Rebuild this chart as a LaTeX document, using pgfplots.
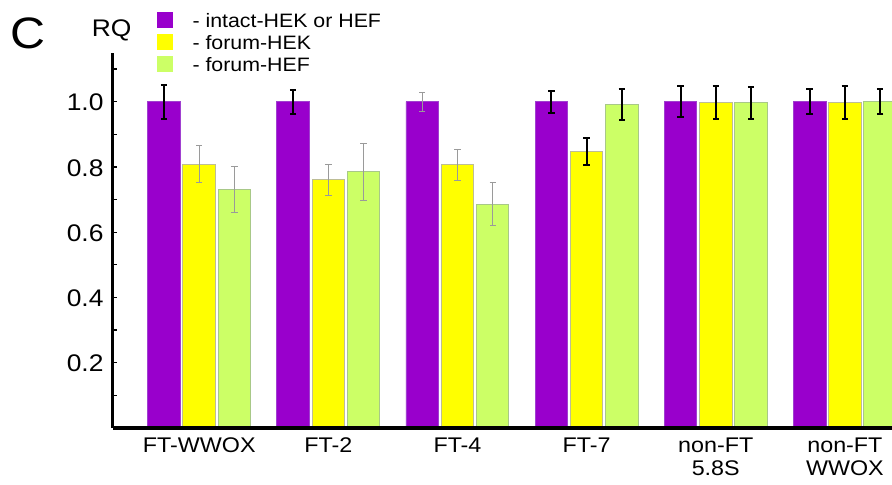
\documentclass[border=0pt]{standalone}
\usepackage{fontspec}
\setmainfont{Liberation Sans}[FakeStretch=1.1]
\usepackage{pgfplots}
\pgfplotsset{compat=1.18}
\definecolor{pur}{HTML}{9900CC}
\definecolor{purB}{HTML}{A040D0}
\definecolor{yel}{HTML}{FFFF00}
\definecolor{yelB}{HTML}{BDBD96}
\definecolor{grn}{HTML}{CCFF66}
\definecolor{grnB}{HTML}{A8C888}
\definecolor{ebgray}{HTML}{9A9A9A}
\begin{document}
\begin{tikzpicture}
\useasboundingbox (0,0) rectangle (446pt,242pt);
\pgfplotsset{
  sq/.style={legend image code/.code={\fill[##1, draw=none] (0pt,-3.1pt) rectangle (8pt,4.9pt); \path (0pt,-5.25pt) (17.4pt,5.25pt);}},
}
\begin{axis}[
  at={(56.25pt,28pt)}, anchor=south west,
  width=389.75pt, height=187.5pt, scale only axis,
  xmin=-0.6714, xmax=5.3648, ymin=0, ymax=1.149,
  axis lines=left, axis line style={-},
  x axis line style={line width=2.4pt},
  y axis line style={line width=1.7pt},
  axis on top=true,
  ytick={0.2,0.4,0.6,0.8,1.0},
  yticklabels={0.2,0.4,0.6,0.8,1.0},
  minor ytick={0.1,0.3,0.5,0.7,0.9,1.1},
  tick align=inside, major tick length=2.4pt, minor tick length=2.4pt,
  ytick style={line width=0.6pt, black},
  yticklabel style={inner sep=0pt, xshift=-4.3pt, yshift=-0.5pt, font=\fontsize{12}{14}\selectfont},
  xtick={0,1,2,3,4,5},
  xticklabels={FT-WWOX, FT-2, FT-4, FT-7, {non-FT\\5.8S}, {non-FT\\WWOX}},
  xtick style={draw=none},
  xticklabel style={align=center, inner sep=0pt, yshift=-4.85pt, font=\fontsize{10.6}{11.4}\selectfont},
  legend style={at={(axis description cs:0.0567,1.112)}, anchor=north west, draw=none, fill=none,
    inner sep=0pt, outer sep=0pt, row sep=0pt, column sep=0pt,
    font=\fontsize{9.7}{12}\selectfont,
    nodes={inner sep=0pt, text height=8pt, text depth=2.5pt}},
  legend cell align=left,
]
\addplot[ybar, bar width=0.2517, bar shift=-0.273, fill=pur, draw=purB, line width=0.4pt, sq]
  coordinates {(0,1.000) (1,1.000) (2,1.000) (3,1.000) (4,1.000) (5,1.001)};
\addlegendentry{- intact-HEK or HEF}
\addplot[ybar, bar width=0.2517, bar shift=0, fill=yel, draw=yelB, line width=0.5pt, sq]
  coordinates {(0,0.808) (1,0.760) (2,0.806) (3,0.848) (4,0.997) (5,0.997)};
\addlegendentry{- forum-HEK}
\addplot[ybar, bar width=0.2517, bar shift=0.273, fill=grn, draw=grnB, line width=0.5pt, sq]
  coordinates {(0,0.730) (1,0.785) (2,0.686) (3,0.992) (4,0.996) (5,1.000)};
\addlegendentry{- forum-HEF}
% black error bars
\addplot[draw=none, mark=none, forget plot,
  error bars/.cd, y dir=both, y explicit,
  error bar style={draw=black, line width=1pt},
  error mark options={draw=black, line width=1pt, mark size=1.6pt, rotate=90}]
  coordinates {
  (-0.273,1.000) +- (0,0.052)
  (0.727,1.000) +- (0,0.037)
  (2.727,1.000) +- (0,0.034)
  (3.000,0.848) +- (0,0.041)
  (3.273,0.992) +- (0,0.048)
  (3.727,1.000) +- (0,0.047)
  (4.000,0.997) +- (0,0.050)
  (4.273,0.996) +- (0,0.048)
  (4.727,1.001) +- (0,0.038)
  (5.000,0.997) +- (0,0.050)
  (5.273,1.000) +- (0,0.039)
  };
% gray error bars
\addplot[draw=none, mark=none, forget plot,
  error bars/.cd, y dir=both, y explicit,
  error bar style={draw=ebgray, line width=0.5pt},
  error mark options={draw=ebgray, line width=0.5pt, mark size=1.6pt, rotate=90}]
  coordinates {
  (0.000,0.808) +- (0,0.057)
  (0.273,0.730) +- (0,0.070)
  (1.000,0.760) +- (0,0.048)
  (1.273,0.785) +- (0,0.087)
  (1.727,1.000) +- (0,0.029)
  (2.000,0.806) +- (0,0.047)
  (2.273,0.686) +- (0,0.067)
  };
\end{axis}
\node[anchor=base, inner sep=0pt, font=\fontsize{22}{24}\selectfont] at (13.75pt,217.85pt) {C};
\node[anchor=base, inner sep=0pt, font=\fontsize{12}{14}\selectfont] at (55.85pt,223.65pt) {RQ};
\end{tikzpicture}
\end{document}
